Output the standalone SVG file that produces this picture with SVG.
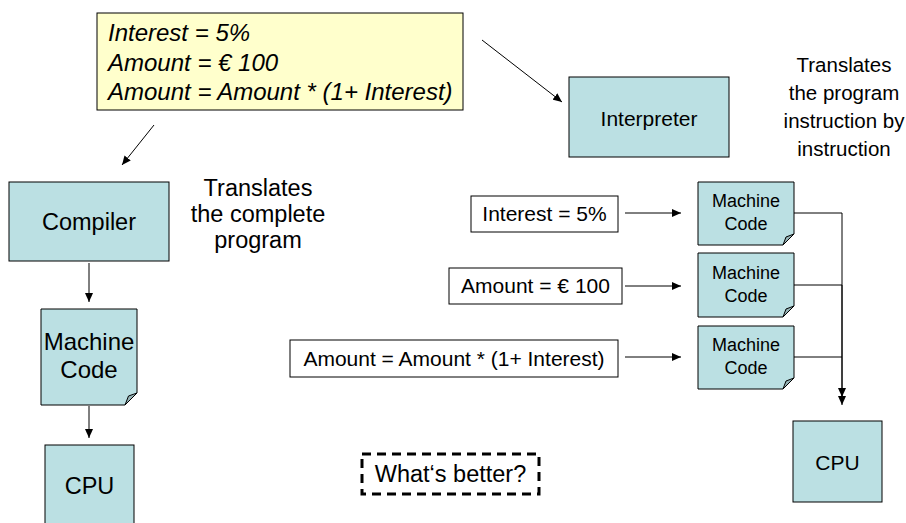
<svg xmlns="http://www.w3.org/2000/svg" width="906" height="523" viewBox="0 0 906 523">
<defs>
<style>
text{font-family:"Liberation Sans",Arial,sans-serif;fill:#000}
.box{fill:#BBE0E3;stroke:#000;stroke-width:1}
.fold{fill:#96B3B6;stroke:#000;stroke-width:1}
.in{fill:#fff;stroke:#000;stroke-width:1}
.c{text-anchor:middle}
.con{fill:none;stroke:#000;stroke-width:1}
</style>
<marker id="ah" markerUnits="userSpaceOnUse" markerWidth="9" markerHeight="8" refX="9" refY="4" orient="auto">
<path d="M0,0 L9,4 L0,8 Z" fill="#000"/>
</marker>
</defs>
<rect width="906" height="523" fill="#fff"/>

<g id="source">
<rect x="97" y="13" width="366" height="97" fill="#FFFFCC" stroke="#000" stroke-width="1"/>
<text x="108" y="41" font-size="24" font-style="italic">Interest = 5%</text>
<text x="108" y="70.5" font-size="24" font-style="italic">Amount = € 100</text>
<text x="108" y="100" font-size="24" font-style="italic">Amount = Amount * (1+ Interest)</text>
</g>

<g id="compiler">
<rect class="box" x="9" y="182" width="160" height="79"/>
<text class="c" x="89" y="230" font-size="23.5">Compiler</text>
</g>

<g id="compiler-note">
<text class="c" x="258" y="196" font-size="23.5">Translates</text>
<text class="c" x="258" y="222" font-size="23.5">the complete</text>
<text class="c" x="258" y="248" font-size="23.5">program</text>
</g>

<g id="machine-code-left">
<path class="box" d="M41,309 H137 V393 L125,405 H41 Z"/>
<path class="fold" d="M137,393 L125,405 L128.5,396 Z"/>
<text class="c" x="89" y="350" font-size="24">Machine</text>
<text class="c" x="89" y="378" font-size="24">Code</text>
</g>

<g id="cpu-left">
<rect class="box" x="45" y="445" width="89" height="90"/>
<text class="c" x="89.5" y="494" font-size="23.5">CPU</text>
</g>

<g id="interpreter">
<rect class="box" x="569" y="77" width="160" height="80"/>
<text class="c" x="649" y="126" font-size="21">Interpreter</text>
</g>

<g id="interpreter-note">
<text class="c" x="844" y="72" font-size="20.5">Translates</text>
<text class="c" x="844" y="100" font-size="20.5">the program</text>
<text class="c" x="844" y="128" font-size="20.5">instruction by</text>
<text class="c" x="844" y="156" font-size="20.5">instruction</text>
</g>

<g id="input1">
<rect class="in" x="471" y="196" width="147" height="36"/>
<text class="c" x="544.5" y="221" font-size="21">Interest = 5%</text>
</g>
<g id="input2">
<rect class="in" x="449" y="268" width="173" height="36"/>
<text class="c" x="535.5" y="293" font-size="21">Amount = € 100</text>
</g>
<g id="input3">
<rect class="in" x="290" y="340" width="328" height="37"/>
<text class="c" x="454" y="365.5" font-size="21">Amount = Amount * (1+ Interest)</text>
</g>

<g id="machine-code-1">
<path class="box" d="M698,182 H794 V234 L783,245 H698 Z"/>
<path class="fold" d="M794,234 L783,245 L786,237 Z"/>
<text class="c" x="746" y="207" font-size="18">Machine</text>
<text class="c" x="746" y="230" font-size="18">Code</text>
</g>
<g id="machine-code-2">
<path class="box" d="M698,253 H794 V306 L783,317 H698 Z"/>
<path class="fold" d="M794,306 L783,317 L786,309 Z"/>
<text class="c" x="746" y="279" font-size="18">Machine</text>
<text class="c" x="746" y="302" font-size="18">Code</text>
</g>
<g id="machine-code-3">
<path class="box" d="M698,326 H794 V378 L783,389 H698 Z"/>
<path class="fold" d="M794,378 L783,389 L786,381 Z"/>
<text class="c" x="746" y="351" font-size="18">Machine</text>
<text class="c" x="746" y="374" font-size="18">Code</text>
</g>

<g id="cpu-right">
<rect class="box" x="793" y="421" width="89" height="81"/>
<text class="c" x="837.5" y="470" font-size="21">CPU</text>
</g>

<g id="question">
<rect x="362" y="454" width="177" height="40" fill="none" stroke="#000" stroke-width="3" stroke-dasharray="9,6"/>
<text class="c" x="450.5" y="482" font-size="23.5">What‘s better?</text>
</g>

<g id="connectors">
<line class="con" x1="154" y1="125" x2="122" y2="165" marker-end="url(#ah)"/>
<line class="con" x1="482" y1="40" x2="562" y2="102" marker-end="url(#ah)"/>
<line class="con" x1="89" y1="263" x2="89" y2="302" marker-end="url(#ah)"/>
<line class="con" x1="89" y1="406" x2="89" y2="438" marker-end="url(#ah)"/>
<line class="con" x1="625" y1="213" x2="681" y2="213" marker-end="url(#ah)"/>
<line class="con" x1="625" y1="286" x2="681" y2="286" marker-end="url(#ah)"/>
<line class="con" x1="625" y1="357" x2="681" y2="357" marker-end="url(#ah)"/>
<path class="con" d="M794,213 H842 V405" marker-end="url(#ah)"/>
<path class="con" d="M794,285 H842 V397" marker-end="url(#ah)"/>
<path class="con" d="M794,357 H842"/>
</g>
</svg>
